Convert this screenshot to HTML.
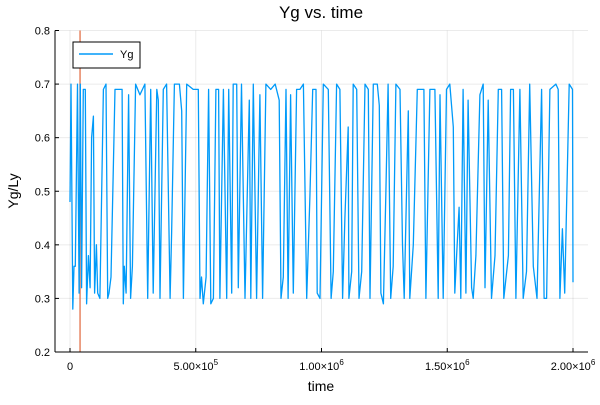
<!DOCTYPE html>
<html><head><meta charset="utf-8"><style>body{margin:0;background:#fff}svg{font-family:"Liberation Sans",sans-serif}</style></head>
<body>
<svg id="c" width="600" height="400">
<text x="321" y="18" font-size="17" text-anchor="middle">Yg vs. time</text>
<text x="0" y="0" font-size="14" text-anchor="middle" transform="translate(18,191) rotate(-90)">Yg/Ly</text>
<text x="321" y="391" font-size="14" text-anchor="middle">time</text>
<g id="grid"></g><g id="ticks"></g><g id="series"></g>
<line x1="55" y1="352" x2="588" y2="352" stroke="#000" stroke-width="1"/>
<line x1="55" y1="30.5" x2="55" y2="352" stroke="#000" stroke-width="1"/>
<g>
<rect x="73" y="42" width="67" height="26" fill="#fff" stroke="#000" stroke-width="1"/>
<line x1="79" y1="54" x2="113" y2="54" stroke="#009af9" stroke-width="1.5"/>
<text x="120" y="58" font-size="11">Yg</text>
</g>
</svg>
<script>
const times=[0,4,11,16,21,30,36,41,46,53,61,66,73,80,86,93,98,105,110,119,133,143,150,155,163,179,199,207,212,216,223,233,241,248,261,278,298,309,321,331,345,351,358,371,384,398,404,415,435,444,451,464,490,510,517,523,530,541,551,560,570,580,591,596,610,623,631,643,649,663,669,682,696,713,719,729,742,755,766,779,798,816,832,839,848,859,867,877,888,901,914,928,941,954,965,978,983,994,1007,1027,1038,1047,1060,1073,1084,1093,1106,1109,1120,1126,1140,1149,1160,1173,1186,1193,1206,1222,1230,1236,1246,1256,1265,1275,1285,1296,1312,1322,1329,1345,1351,1365,1381,1407,1415,1431,1451,1464,1471,1484,1497,1510,1524,1530,1537,1547,1554,1563,1574,1583,1597,1603,1614,1630,1643,1650,1663,1676,1690,1703,1716,1725,1743,1752,1763,1773,1789,1802,1815,1828,1842,1857,1875,1885,1895,1908,1932,1941,1948,1958,1967,1985,1998,2000];
const yg=[0.48,0.70,0.28,0.36,0.36,0.70,0.31,0.70,0.32,0.69,0.69,0.29,0.38,0.32,0.60,0.64,0.31,0.40,0.31,0.30,0.69,0.70,0.30,0.31,0.34,0.69,0.69,0.69,0.29,0.36,0.31,0.68,0.30,0.36,0.70,0.68,0.70,0.30,0.69,0.31,0.69,0.67,0.30,0.69,0.70,0.30,0.42,0.70,0.70,0.65,0.30,0.70,0.69,0.69,0.30,0.34,0.29,0.34,0.69,0.29,0.30,0.69,0.69,0.30,0.69,0.30,0.69,0.31,0.70,0.70,0.32,0.70,0.30,0.67,0.30,0.70,0.30,0.68,0.30,0.70,0.69,0.70,0.67,0.30,0.34,0.69,0.30,0.68,0.31,0.69,0.69,0.70,0.30,0.49,0.69,0.69,0.31,0.30,0.70,0.69,0.30,0.35,0.70,0.69,0.30,0.45,0.62,0.30,0.35,0.70,0.69,0.30,0.35,0.70,0.69,0.30,0.70,0.70,0.66,0.31,0.29,0.50,0.70,0.30,0.36,0.70,0.69,0.40,0.30,0.65,0.30,0.40,0.69,0.69,0.30,0.69,0.69,0.30,0.68,0.30,0.69,0.70,0.62,0.31,0.38,0.47,0.30,0.69,0.31,0.67,0.32,0.30,0.38,0.68,0.70,0.32,0.67,0.30,0.38,0.69,0.69,0.30,0.38,0.69,0.69,0.30,0.69,0.30,0.35,0.70,0.36,0.30,0.69,0.30,0.30,0.69,0.70,0.69,0.30,0.43,0.31,0.70,0.69,0.33];
const yTicks=[0.2,0.3,0.4,0.5,0.6,0.7,0.8];
const yTickLabels=["0.2","0.3","0.4","0.5","0.6","0.7","0.8"];
const xTicks=[0,500,1000,1500,2000];
const xTickLabels=["0","5.00","1.00","1.50","2.00"];
const vline=[40];
const NS="http://www.w3.org/2000/svg";
const X=t=>70+(t/2000)*503;
const Y=v=>352-(v-0.2)/0.6*321.5;
function mk(tag,parent,attrs){const e=document.createElementNS(NS,tag);for(const k in attrs)e.setAttribute(k,attrs[k]);document.getElementById(parent).appendChild(e);return e;}
yTicks.forEach((v,i)=>{
 const g=mk('line','grid',{x1:55,x2:588,y1:Y(v),y2:Y(v),stroke:'#000','stroke-opacity':0.08});
 
 
 const tk=mk('line','ticks',{x1:55,x2:59,y1:Y(v),y2:Y(v),stroke:'#000'});
 
 
 const t=mk('text','ticks',{x:50,y:Y(v)+4,'font-size':11,'text-anchor':'end'});
 t.textContent=yTickLabels[i];
 
 
});
xTicks.forEach((v,i)=>{
 const g=mk('line','grid',{x1:X(v),x2:X(v),y1:30.5,y2:352,stroke:'#000','stroke-opacity':0.08});
 
 
 const tk=mk('line','ticks',{x1:X(v),x2:X(v),y1:352,y2:348,stroke:'#000'});
 
 
 const t=mk('text','ticks',{x:X(v),y:370,'font-size':11,'text-anchor':'middle'});
 
 
 if(i===0){t.textContent=xTickLabels[i];}
 else{t.textContent=xTickLabels[i]+'×10';const s=document.createElementNS(NS,'tspan');s.setAttribute('dy','-5');s.setAttribute('font-size','8');s.textContent=(i===1?'5':'6');t.appendChild(s);}
});
vline.forEach(v=>{
 const l=mk('line','series',{x1:X(v),x2:X(v),y1:30.5,y2:352,stroke:'#e26f46','stroke-width':1.5,'stroke-opacity':0.85});
 
 
});
const p=mk('polyline','series',{fill:'none',stroke:'#009af9','stroke-width':1.3,'stroke-linejoin':'round',points:times.map((t,i)=>X(t).toFixed(1)+','+Y(yg[i]).toFixed(1)).join(' ')});


</script>
</body></html>
